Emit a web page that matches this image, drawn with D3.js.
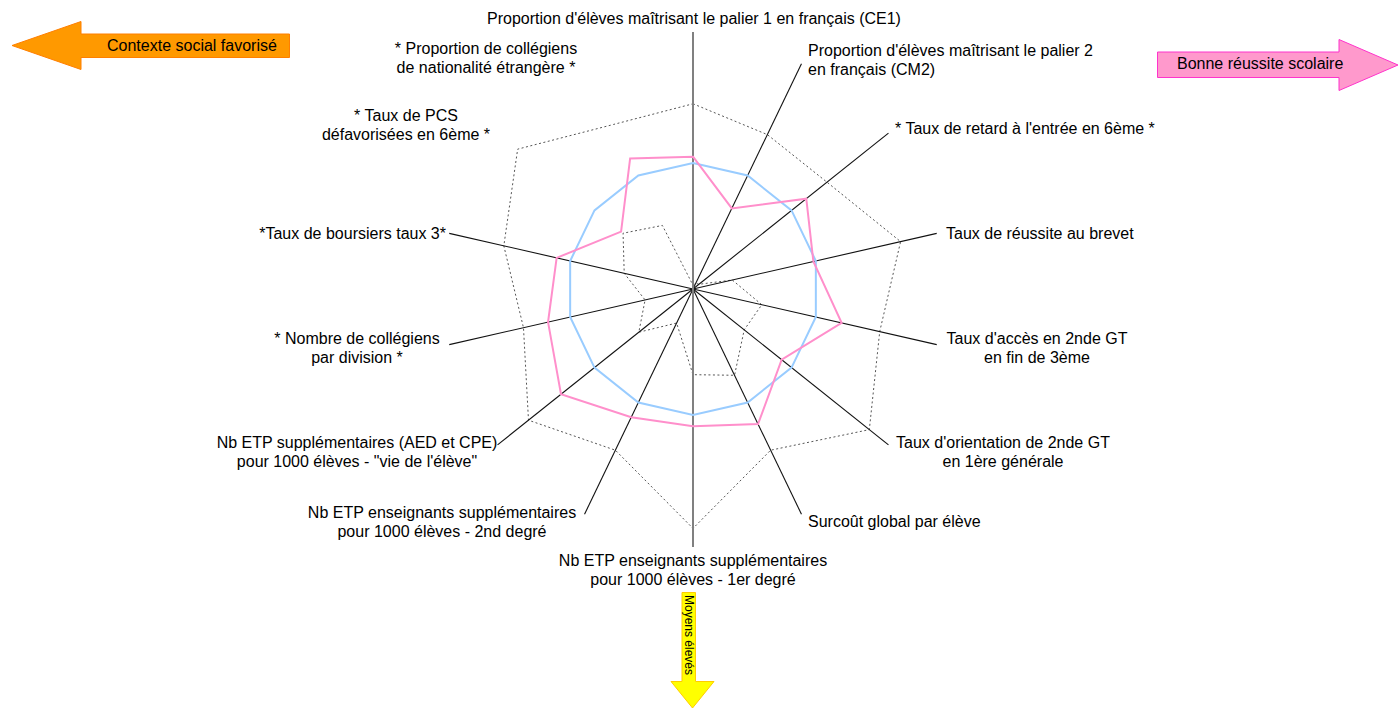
<!DOCTYPE html>
<html>
<head>
<meta charset="utf-8">
<script src="https://cdn.jsdelivr.net/npm/d3@7"></script>
<style>
  body { margin: 0; background: #fff; }
  svg { display: block; font-family: "Liberation Sans", Arial, sans-serif; }
</style>
</head>
<body>
<div id="radar"></div>
<script>
// axes, clockwise from the top
var axes = [
  ["Proportion d'élèves maîtrisant le palier 1 en français (CE1)"],
  ["Proportion d'élèves maîtrisant le palier 2", "en français (CM2)"],
  ["* Taux de retard à l'entrée en 6ème *"],
  ["Taux de réussite au brevet"],
  ["Taux d'accès en 2nde GT", "en fin de 3ème"],
  ["Taux d'orientation de 2nde GT", "en 1ère générale"],
  ["Surcoût global par élève"],
  ["Nb ETP enseignants supplémentaires", "pour 1000 élèves - 1er degré"],
  ["Nb ETP enseignants supplémentaires", "pour 1000 élèves - 2nd degré"],
  ["Nb ETP supplémentaires (AED et CPE)", "pour 1000 élèves - \"vie de l'élève\""],
  ["* Nombre de collégiens", "par division *"],
  ["*Taux de boursiers taux 3*"],
  ["* Taux de PCS", "défavorisées en 6ème *"],
  ["* Proportion de collégiens", "de nationalité étrangère *"]
]

// series values (base 100 = reference)
var etablissement = [105, 71, 115, 98, 121, 90, 119, 109, 113, 134, 118, 111, 73, 115]
var reference     = [100, 100, 100, 100, 100, 100, 100, 100, 100, 100, 100, 100, 100, 100]
var maximum       = [147, 136, 136, 169, 152, 179, 142, 190, 142, 167, 138, 154, 178, 145]
var minimum       = [3, 5, 6, 32, 56, 52, 76, 68, 30, 55, 39, 56, 71, 56]

// arrow captions
var arrowLeft  = "Contexte social favorisé"
var arrowRight = "Bonne réussite scolaire"
var arrowDown  = "Moyens élevés"

var width = 1400, height = 708
var cx = 693, cy = 289
var axisLen = 250

// label placement: anchor x, first baseline, alignment
var labelPos = [
  {x: 694,  y: 24,  a: "middle"},
  {x: 808,  y: 56,  a: "start"},
  {x: 895,  y: 134, a: "start"},
  {x: 946,  y: 239, a: "start"},
  {x: 1037, y: 344, a: "middle"},
  {x: 1003, y: 448, a: "middle"},
  {x: 808,  y: 527, a: "start"},
  {x: 693,  y: 566, a: "middle"},
  {x: 442,  y: 518, a: "middle"},
  {x: 357,  y: 448, a: "middle"},
  {x: 357,  y: 344, a: "middle"},
  {x: 446,  y: 239, a: "end"},
  {x: 406,  y: 121, a: "middle"},
  {x: 486,  y: 54,  a: "middle"}
]

var svg = d3.select('#radar').append("svg")
    .attr("width", width)
    .attr("height", height)

var n = axes.length
var angle = d3.scaleLinear().domain([0, n]).range([0, 2 * Math.PI])
var r = d3.scaleLinear().domain([0, 200]).range([0, 252])

var g = svg.append("g")
    .attr("transform", "translate(" + cx + "," + cy + ")")

var radial = d3.lineRadial()
    .angle(function(d, i) { return angle(i) })
    .radius(function(d) { return r(d) })
    .curve(d3.curveLinearClosed)

// dotted min / max series
g.selectAll(".dotted")
    .data([maximum, minimum])
  .enter().append("path")
    .attr("class", "dotted")
    .attr("d", radial)
    .attr("fill", "none")
    .attr("stroke", "#555")
    .attr("stroke-width", 1)
    .attr("stroke-dasharray", "2,2.5")

// axis lines (the vertical one is drawn separately in grey)
g.selectAll(".axis")
    .data(axes)
  .enter().append("line")
    .filter(function(d, i) { return i != 0 && i != 7 })
    .attr("x1", 0).attr("y1", 0)
    .attr("x2", function(d, i) { return axisLen * Math.sin(angle(i)) })
    .attr("y2", function(d, i) { return -axisLen * Math.cos(angle(i)) })
    .attr("stroke", "#111")
    .attr("stroke-width", 1.1)

g.append("line")
    .attr("x1", 0).attr("y1", -257)
    .attr("x2", 0).attr("y2", 258)
    .attr("stroke", "#808080")
    .attr("stroke-width", 2)

g.append("path")
    .datum(reference)
    .attr("d", radial)
    .attr("fill", "none")
    .attr("stroke", "#99ccff")
    .attr("stroke-width", 2)

g.append("path")
    .datum(etablissement)
    .attr("d", radial)
    .attr("fill", "none")
    .attr("stroke", "#ff8fcb")
    .attr("stroke-width", 2)

// axis labels
var labels = svg.selectAll(".label")
    .data(axes)
  .enter().append("text")
    .attr("class", "label")
    .attr("font-size", 16)
    .attr("fill", "#000")
    .attr("text-anchor", function(d, i) { return labelPos[i].a })

labels.each(function(d, i) {
  var t = d3.select(this)
  d.forEach(function(line, j) {
    t.append("tspan")
      .attr("x", labelPos[i].x)
      .attr("y", labelPos[i].y + j * 19)
      .text(line)
  })
})

// arrows
svg.append("path")
    .attr("d", "M12,45.5 L81,21.5 L81,34 L289.5,34 L289.5,57.5 L81,57.5 L81,69.5 Z")
    .attr("fill", "#ff9900")
    .attr("stroke", "#ff7f00")
    .attr("stroke-width", 1)
svg.append("text")
    .attr("x", 107).attr("y", 51)
    .attr("font-size", 16)
    .text(arrowLeft)

svg.append("path")
    .attr("d", "M1157.5,52 L1339,52 L1339,39.5 L1398,65 L1339,90.5 L1339,77.5 L1157.5,77.5 Z")
    .attr("fill", "#ff99cc")
    .attr("stroke", "#ff33cc")
    .attr("stroke-width", 1)
svg.append("text")
    .attr("x", 1177).attr("y", 69)
    .attr("font-size", 16)
    .text(arrowRight)

svg.append("path")
    .attr("d", "M682,592.5 L695.5,592.5 L695.5,681.5 L714,681.5 L692.5,708 L671,681.5 L682,681.5 Z")
    .attr("fill", "#ffff00")
    .attr("stroke", "#ffcc00")
    .attr("stroke-width", 1)
svg.append("text")
    .attr("transform", "translate(684.5,595) rotate(90)")
    .attr("font-size", 12)
    .text(arrowDown)
</script>
</body>
</html>
